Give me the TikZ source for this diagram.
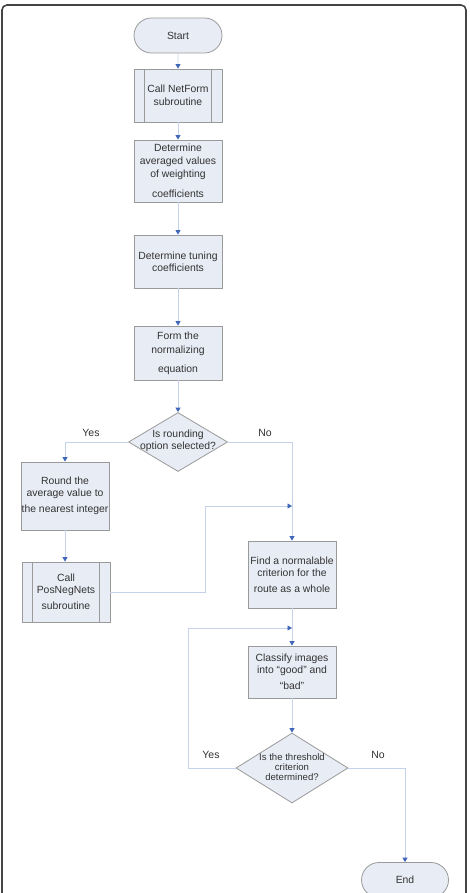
\documentclass[tikz,border=0pt]{standalone}
\usepackage{fontspec}
\setmainfont{Liberation Sans}
\usetikzlibrary{arrows.meta,shapes.geometric,shapes.misc}
\definecolor{boxfill}{HTML}{E8ECF5}
\definecolor{boxline}{HTML}{9A9A9A}
\definecolor{arrline}{HTML}{C4D2EC}
\definecolor{arrtip}{HTML}{3F66B8}
\definecolor{txtc}{HTML}{333333}
\definecolor{framec}{HTML}{444444}
\begin{document}
\begin{tikzpicture}[x=1pt,y=-1pt,
 font=\fontsize{10.4}{12}\selectfont,
 every node/.style={text=txtc},
 box/.style={draw=boxline, fill=boxfill, line width=0.8pt, minimum width=88pt, inner sep=0pt, align=center},
 term/.style={box, rounded rectangle, minimum height=35pt},
 dia/.style={draw=boxline, fill=boxfill, line width=0.8pt, diamond, inner sep=0pt},
 txt/.style={align=center, inner sep=0pt},
 arr/.style={draw=arrline, line width=0.9pt, -{Triangle[width=5pt,length=4.5pt,color=arrtip]}},
 sub/.style={draw=boxline, line width=0.8pt},
 lbl/.style={font=\fontsize{10.5}{12}\selectfont}
]
\useasboundingbox (0,0) rectangle (469,893);
\clip (0,0) rectangle (469,893);
\draw[framec, line width=1.6pt, rounded corners=5pt] (2,5) rectangle (466,915);

% nodes
\node[term] (start) at (178,35.5) {Start};
\node[box, minimum height=53pt] (nf) at (178,95.5) {Call NetForm\\[1pt]subroutine};
\node[box, minimum height=62pt] (avg) at (178,171) {Determine\\[1pt]averaged values\\[1pt]of weighting\\[8pt]coefficients};
\node[box, minimum height=53pt] (tun) at (178,261.5) {Determine tuning\\coefficients};
\node[box, minimum height=54pt] (form) at (178,353) {Form the\\[2pt]normalizing\\[7pt]equation};
\node[dia, minimum width=99pt, minimum height=59pt] (d1) at (178,442) {};
\node[txt] (d1t) at (178,441) {Is rounding\\option selected?};
\node[box, minimum height=68pt] (rnd) at (65,496) {Round the\\average value to\\[4pt]the nearest integer};
\node[box, minimum height=60pt] (pn) at (66,592) {Call\\PosNegNets\\[4pt]subroutine};
\node[box, minimum height=67pt] (find) at (292,574.5) {Find a normalable\\criterion for the\\[4pt]route as a whole};
\node[box, minimum height=52pt] (cls) at (292,672) {Classify images\\into ``good'' and\\[4pt]``bad''};
\node[dia, minimum width=112pt, minimum height=70pt] (d2) at (292,768) {};
\node[txt, font=\fontsize{9.6}{9.6}\selectfont] (d2t) at (292,767) {Is the threshold\\criterion\\determined?};
\node[term, minimum width=87pt] (end) at (405,880) {End};

% subroutine side bars
\draw[sub] ([xshift=11pt]nf.north west) -- ([xshift=11pt]nf.south west);
\draw[sub] ([xshift=-11pt]nf.north east) -- ([xshift=-11pt]nf.south east);
\draw[sub] ([xshift=11pt]pn.north west) -- ([xshift=11pt]pn.south west);
\draw[sub] ([xshift=-11pt]pn.north east) -- ([xshift=-11pt]pn.south east);

% labels
\node[lbl] (y1) at (91,433) {Yes};
\node[lbl] (n1) at (265,433) {No};
\node[lbl] (y2) at (211,755) {Yes};
\node[lbl] (n2) at (378,755) {No};

% junction coordinates
\coordinate (j1) at (292,506);
\coordinate (j2) at (292,628);

% connectors
\draw[arr] (start) -- (nf);
\draw[arr] (nf) -- (avg);
\draw[arr] (avg) -- (tun);
\draw[arr] (tun) -- (form);
\draw[arr] (form) -- (d1.north);
\draw[arr] (d1.west) -| (rnd.north);
\draw[arr] (d1.east) -| (find.north);
\draw[arr] (rnd.south) -- (rnd.south |- pn.north);
\draw[arr] (pn.east) -- ++(95,0) |- (j1);
\draw[arr] (find.south) -- (cls.north);
\draw[arr] (cls.south) -- (d2.north);
\draw[arr] (d2.west) -- ++(-47,0) |- (j2);
\draw[arr] (d2.east) -| (end.north);
\end{tikzpicture}
\end{document}
